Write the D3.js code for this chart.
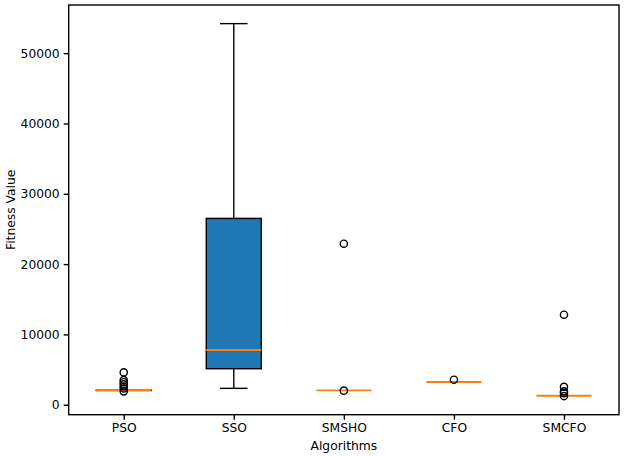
<!DOCTYPE html>
<html>
<head>
<meta charset="utf-8">
<script src="https://cdn.jsdelivr.net/npm/d3@7"></script>
<style>
  body { margin: 0; background: #fff; }
  svg { display: block; font-family: "DejaVu Sans", sans-serif; }
</style>
</head>
<body>
<svg width="624" height="456"></svg>
<script>
// box statistics
var algorithms = ["PSO", "SSO", "SMSHO", "CFO", "SMCFO"];
var whiskerLow  = [2030, 2330, 2050, 3230, 1280];
var q1          = [2030, 5120, 2050, 3230, 1280];
var medians     = [2040, 7780, 2050, 3230, 1280];
var q3          = [2050, 26500, 2050, 3230, 1280];
var whiskerHigh = [2050, 54200, 2050, 3230, 1280];
var outliers = [
    [4600, 3500, 3200, 2900, 2600, 2300, 1900],
    [],
    [22900, 2000],
    [3560],
    [12800, 2550, 1900, 1650, 1230]
];
var yTicks = [0, 10000, 20000, 30000, 40000, 50000];

var svg = d3.select("svg"),
    width = 624,
    height = 456,
    margin = {top: 5, right: 5, bottom: 41.3, left: 68.7};

// matplotlib style 5% padding on data range
var allVals = d3.merge([whiskerLow, whiskerHigh, d3.merge(outliers)]);
var dmin = d3.min(allVals), dmax = d3.max(allVals), pad = (dmax - dmin) * 0.05;

var x = d3.scaleLinear()
    .domain([0.5, algorithms.length + 0.5])
    .range([margin.left, width - margin.right]);

var y = d3.scaleLinear()
    .domain([dmin - pad, dmax + pad])
    .range([height - margin.bottom, margin.top]);

var boxW = x(1.25) - x(1),   // half of 0.5 width
    capW = x(1.125) - x(1),
    lw = 1.4;

var g = svg.append("g");

algorithms.forEach(function(name, i) {
    var cx = x(i + 1);
    var bg = g.append("g");
    // whiskers
    bg.append("line").attr("x1", cx).attr("x2", cx)
        .attr("y1", y(whiskerLow[i])).attr("y2", y(q1[i]))
        .attr("stroke", "#000").attr("stroke-width", lw);
    bg.append("line").attr("x1", cx).attr("x2", cx)
        .attr("y1", y(q3[i])).attr("y2", y(whiskerHigh[i]))
        .attr("stroke", "#000").attr("stroke-width", lw);
    // caps (only when whisker extends past box)
    if (whiskerLow[i] < q1[i]) {
        bg.append("line").attr("x1", cx - capW).attr("x2", cx + capW)
            .attr("y1", y(whiskerLow[i])).attr("y2", y(whiskerLow[i]))
            .attr("stroke", "#000").attr("stroke-width", lw);
    }
    if (whiskerHigh[i] > q3[i]) {
        bg.append("line").attr("x1", cx - capW).attr("x2", cx + capW)
            .attr("y1", y(whiskerHigh[i])).attr("y2", y(whiskerHigh[i]))
            .attr("stroke", "#000").attr("stroke-width", lw);
    }
    // box
    bg.append("rect")
        .attr("x", cx - boxW).attr("width", boxW * 2)
        .attr("y", y(q3[i])).attr("height", Math.max(0, y(q1[i]) - y(q3[i])))
        .attr("fill", "#1f77b4").attr("stroke", "#000").attr("stroke-width", lw);
    // median
    bg.append("line").attr("x1", cx - boxW).attr("x2", cx + boxW)
        .attr("y1", y(medians[i])).attr("y2", y(medians[i]))
        .attr("stroke", "#ff7f0e").attr("stroke-width", 1.8);
    // fliers on top
    bg.selectAll("circle").data(outliers[i]).join("circle")
        .attr("cx", cx).attr("cy", d => y(d)).attr("r", 3.6)
        .attr("fill", "none").attr("stroke", "#000").attr("stroke-width", lw);
});

// axes
var xAxis = d3.axisBottom(x)
    .tickValues(algorithms.map((d, i) => i + 1))
    .tickFormat((d, i) => algorithms[i])
    .tickSize(5).tickPadding(4);
var yAxis = d3.axisLeft(y)
    .tickValues(yTicks)
    .tickFormat(d3.format("d"))
    .tickSize(5).tickPadding(4);

var gx = svg.append("g")
    .attr("transform", "translate(0," + (height - margin.bottom) + ")")
    .call(xAxis);
var gy = svg.append("g")
    .attr("transform", "translate(" + margin.left + ",0)")
    .call(yAxis);
[gx, gy].forEach(function(a) {
    a.select(".domain").remove();
    a.selectAll("text").attr("fill", "#000")
        .style("font-size", "12.3px").style("font-family", "DejaVu Sans");
    a.selectAll("line").attr("stroke", "#000").attr("stroke-width", lw);
});

// frame
svg.append("rect")
    .attr("x", margin.left).attr("y", margin.top)
    .attr("width", width - margin.left - margin.right)
    .attr("height", height - margin.top - margin.bottom)
    .attr("fill", "none").attr("stroke", "#000").attr("stroke-width", lw);

// labels
svg.append("text")
    .attr("x", (margin.left + width - margin.right) / 2).attr("y", 450)
    .attr("text-anchor", "middle").style("font-size", "12.3px")
    .text("Algorithms");
svg.append("text")
    .attr("transform", "translate(15," + ((margin.top + height - margin.bottom) / 2) + ") rotate(-90)")
    .attr("text-anchor", "middle").style("font-size", "12.3px")
    .text("Fitness Value");
</script>
</body>
</html>
